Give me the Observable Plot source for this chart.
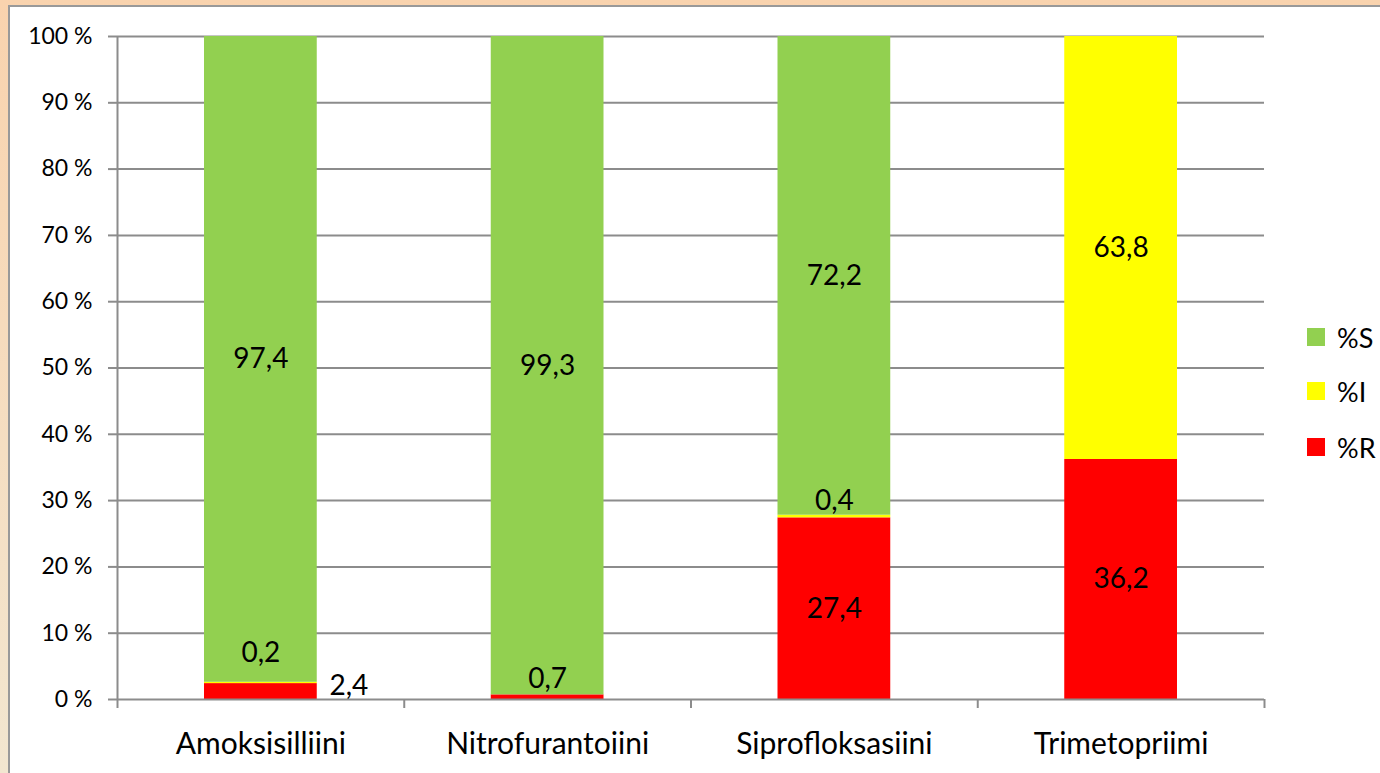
<!DOCTYPE html>
<html>
<head>
<meta charset="utf-8">
<script src="https://cdn.jsdelivr.net/npm/d3@7"></script>
<script src="https://cdn.jsdelivr.net/npm/@observablehq/plot@0.6"></script>
<style>
  html, body { margin: 0; padding: 0; }
  body {
    width: 1380px; height: 773px; overflow: hidden; position: relative;
    background: linear-gradient(#f9d3ae, #f2e6d0);
    font-family: Lato, "Open Sans", sans-serif;
  }
  #frame {
    position: absolute; left: 8px; top: 5px; width: 1372px; height: 768px;
    background: #fff; border-left: 2px solid #999; border-top: 2px solid #999;
  }
  #legend { position: absolute; left: 1307px; top: 0; }
  .item { position: absolute; left: 0; display: flex; align-items: center; white-space: nowrap; }
  .sw { width: 18px; height: 18px; margin-right: 12px; }
  .lab { font-size: 27px; color: #000; }
</style>
</head>
<body>
<div id="frame"><div id="chart"></div></div>
<div id="legend"></div>
<script>
// ---- data ----
const categories = ["Amoksisilliini", "Nitrofurantoiini", "Siprofloksasiini", "Trimetopriimi"];
const seriesNames = ["%R", "%I", "%S"];          // stacking order, bottom to top
const valuesR = [2.4, 0.7, 27.4, 36.2];
const valuesI = [0.2, 0.0, 0.4, 63.8];
const valuesS = [97.4, 99.3, 72.2, 0.0];
const seriesColors = ["#ff0000", "#ffff00", "#92d050"];
const legendOrder = ["%S", "%I", "%R"];
const yTicks = [0, 10, 20, 30, 40, 50, 60, 70, 80, 90, 100];

// ---- build stacked rows ----
const seriesValues = [valuesR, valuesI, valuesS];
const rows = [];
categories.forEach((cat, i) => {
  let acc = 0;
  seriesNames.forEach((s, k) => {
    const v = seriesValues[k][i];
    rows.push({category: cat, series: s, value: v, x1: i, x2: i + 1, y1: acc, y2: acc + v});
    acc += v;
  });
});
const labelRows = rows.filter(d => d.value > 0);
const fmt = v => v.toFixed(1).replace(".", ",");

// label placement adjustments for thin segments (pixel offsets)
const adjust = {
  "Amoksisilliini|%I": [0, -30],
  "Amoksisilliini|%R": [88, -6],
  "Nitrofurantoiini|%R": [0, -18],
  "Siprofloksasiini|%I": [0, -15]
};
const key = d => d.category + "|" + d.series;
const plain = labelRows.filter(d => !adjust[key(d)]);
const special = labelRows.filter(d => adjust[key(d)]);

const gray = "#8c8c8c";
const labelFont = 28;

const marks = [
  Plot.ruleY(yTicks.filter(t => t > 0), {stroke: gray, strokeWidth: 2}),
  Plot.rectY(rows.filter(d => d.value > 0), {
    x1: "x1", x2: "x2", y1: "y1", y2: "y2", fill: "series",
    insetLeft: 87, insetRight: 87
  }),
  Plot.ruleX([0], {stroke: gray, strokeWidth: 2}),
  Plot.ruleY([0], {stroke: gray, strokeWidth: 2}),
  Plot.axisY({
    ticks: yTicks, tickSize: 9, tickPadding: 16, tickFormat: d => d + " %",
    fontSize: 23, stroke: gray, strokeWidth: 2, fill: "#000"
  }),
  Plot.axisX({
    ticks: [0, 1, 2, 3, 4], tickSize: 9, tickFormat: () => "",
    stroke: gray, strokeWidth: 2
  }),
  Plot.text(categories, {
    x: (d, i) => i + 0.5, y: () => 0, text: d => d, dy: 45,
    fontSize: 30, fill: "#000"
  }),
  Plot.text(plain, {
    x: d => (d.x1 + d.x2) / 2, y: d => (d.y1 + d.y2) / 2, text: d => fmt(d.value),
    fontSize: labelFont, fill: "#000"
  }),
  ...special.map(d => Plot.text([d], {
    x: r => (r.x1 + r.x2) / 2, y: r => (r.y1 + r.y2) / 2, text: r => fmt(r.value),
    dx: adjust[key(d)][0], dy: adjust[key(d)][1],
    fontSize: labelFont, fill: "#000"
  }))
];

const chart = Plot.plot({
  width: 1370, height: 766,
  marginLeft: 107, marginRight: 116, marginTop: 29, marginBottom: 74,
  x: {type: "linear", domain: [0, 4], axis: null},
  y: {domain: [0, 100], axis: null},
  color: {domain: seriesNames, range: seriesColors},
  style: {fontFamily: "Lato, 'Open Sans', sans-serif", background: "transparent", overflow: "visible"},
  marks
});
document.getElementById("chart").appendChild(chart);

// ---- legend (right side) ----
const legend = document.getElementById("legend");
const legendTops = {"%S": 328, "%I": 382, "%R": 438};
legendOrder.forEach(s => {
  const it = document.createElement("div");
  it.className = "item";
  it.style.top = (legendTops[s] - 10) + "px";
  it.style.height = "38px";
  const sw = document.createElement("div");
  sw.className = "sw";
  sw.style.background = seriesColors[seriesNames.indexOf(s)];
  const lab = document.createElement("span");
  lab.className = "lab";
  lab.textContent = s;
  it.appendChild(sw); it.appendChild(lab);
  legend.appendChild(it);
});
</script>
</body>
</html>
